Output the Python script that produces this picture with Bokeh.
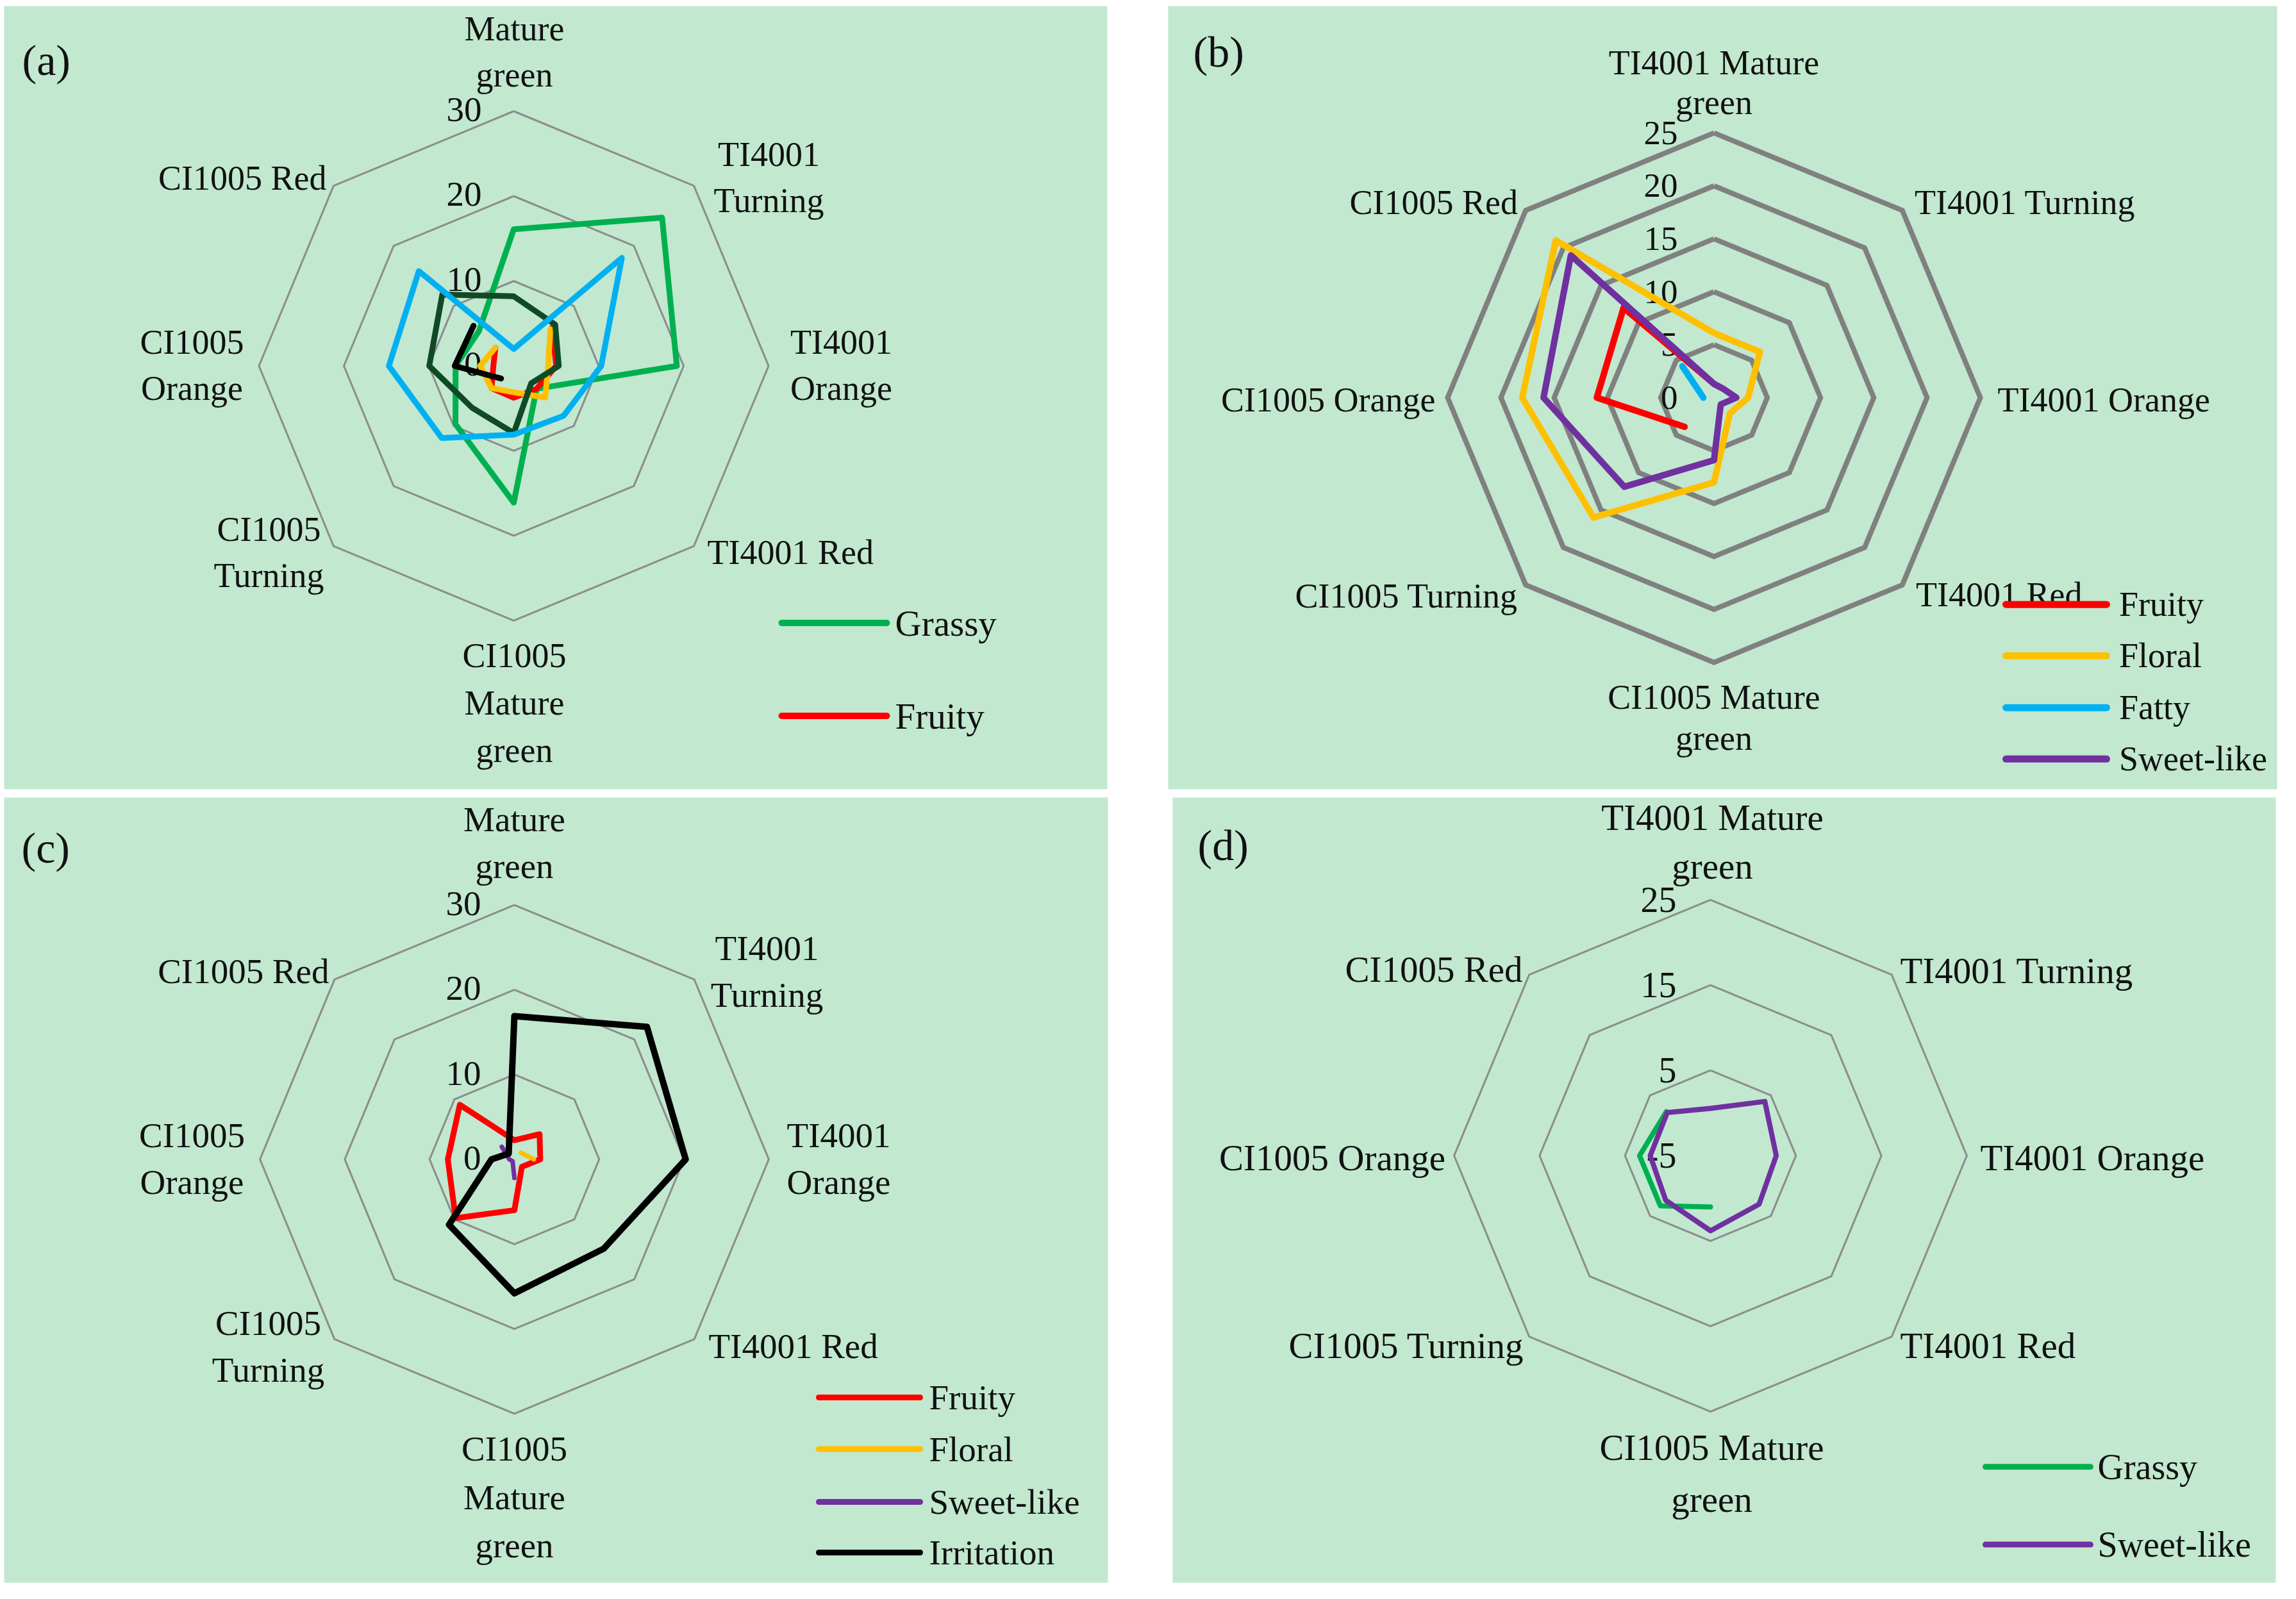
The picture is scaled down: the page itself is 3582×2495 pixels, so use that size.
import math
from bokeh.plotting import figure
from bokeh.layouts import row, column
from bokeh.models import Range1d
from bokeh.embed import file_html
from bokeh.resources import INLINE
from bokeh.core.properties import value

NAN = float("nan")

# ---------------- data ----------------
cats_ac = ["Mature\ngreen", "TI4001\nTurning", "TI4001\nOrange", "TI4001 Red",
           "CI1005\nMature\ngreen", "CI1005\nTurning", "CI1005\nOrange", "CI1005 Red"]
cats_bd = ["TI4001 Mature\ngreen", "TI4001 Turning", "TI4001 Orange", "TI4001 Red",
           "CI1005 Mature\ngreen", "CI1005 Turning", "CI1005 Orange", "CI1005 Red"]

ticks_a = [0, 10, 20, 30]
ticks_b = [0, 5, 10, 15, 20, 25]
ticks_c = [0, 10, 20, 30]
ticks_d = [-5, 5, 15, 25]

# panel (a)
a_grassy = [16.1, 24.7, 19.2, 3.8, 16.1, 9.7, 6.85, 5.8]
a_fruity = [NAN, 6.4, 5.0, 3.8, 3.75, 3.7, 2.4, 3.05]
a_floral = [NAN, 6.1, 4.05, 5.25, 3.1, 3.7, 3.95, 3.05]
a_fatty = [2.0, 18.0, 10.3, 8.3, 8.1, 12.0, 14.7, 15.8]
a_other = [8.2, 6.9, 5.3, 2.9, 7.9, 6.95, 9.95, 11.9]
a_irritation = [NAN, NAN, NAN, NAN, NAN, 2.1, 6.95, 6.7]

# panel (b)
b_fruity = [1.3, NAN, NAN, NAN, NAN, 3.9, 11.0, 12.0]
b_floral = [6.1, 6.1, 3.2, 2.1, 8.0, 16.0, 18.0, 21.0]
b_fatty = [NAN, NAN, NAN, NAN, NAN, NAN, 1.0, 4.2]
b_sweet = [1.3, 1.2, 2.1, 0.9, 5.9, 11.9, 16.0, 19.0]

# panel (c)
c_fruity = [2.25, 4.2, 3.05, 1.25, 6.0, 9.8, 7.85, 9.1]
c_floral = [NAN, 1.1, 2.3, NAN, NAN, NAN, NAN, NAN]
c_sweet = [NAN, NAN, NAN, NAN, 2.2, 0.3, 0.6, 2.1]
c_irritation = [16.9, 22.1, 20.2, 14.9, 15.8, 10.9, 2.7, 0.95]

# panel (d)
d_grassy = [NAN, NAN, NAN, NAN, 1.0, 3.3, 3.3, 2.3]
d_sweet = [0.55, 4.0, 2.7, 3.05, 3.8, 2.4, 2.05, 2.15]

# ---------------- styles ----------------
GREEN = "#00B050"
RED = "#FF0000"
GOLD = "#FFC000"
BLUE = "#00B0F0"
PURPLE = "#7030A0"
BLACK = "#000000"
DKGREEN = "#0F4A25"
BG = "#C2E8D0"
FONT = "Liberation Serif"


def make_panel(spec):
    CX, CY, k = spec["center"][0], spec["center"][1], spec["k"]
    fx0, fy0, fw, fh = spec["frame"]
    bl, br, bt, bb = spec["borders"]
    p = figure(width=fw + bl + br, height=fh + bt + bb,
               x_range=Range1d((fx0 - CX) / k, (fx0 + fw - CX) / k),
               y_range=Range1d((CY - (fy0 + fh)) / k, (CY - fy0) / k),
               x_axis_type=None, y_axis_type=None, toolbar_location=None,
               output_backend="svg",
               min_border_left=bl, min_border_right=br,
               min_border_top=bt, min_border_bottom=bb)
    p.background_fill_color = BG
    p.border_fill_color = "white"
    p.outline_line_color = None
    p.grid.visible = False

    def to_data(X, Y):
        return (X - CX) / k, (CY - Y) / k

    rmin = spec["ticks"][0]
    n = 8
    ang = [2 * math.pi * i / n for i in range(n + 1)]

    # rings
    for t in spec["ticks"][1:]:
        r = t - rmin
        p.line([r * math.sin(a) for a in ang], [r * math.cos(a) for a in ang],
               line_color=spec["ring_color"], line_width=spec["ring_width"],
               line_join="miter")

    # tick labels
    for t in spec["ticks"]:
        r = t - rmin
        p.text(x=[(spec["tick_right"] - CX) / k], y=[r + spec["tick_dy"] / k], text=[str(t)],
               text_font=value(FONT), text_font_size=spec["tick_size"],
               text_align="right", text_baseline="middle", text_color="#111111")

    # series
    for vals, color, lw in spec["series"]:
        vv = list(vals) + [vals[0]]
        xs, ys = [], []
        for i, v in enumerate(vv):
            if v != v:
                xs.append(NAN)
                ys.append(NAN)
            else:
                r = v - rmin
                xs.append(r * math.sin(ang[i]))
                ys.append(r * math.cos(ang[i]))
        p.line(xs, ys, line_color=color, line_width=lw,
               line_join="round", line_cap="round")

    # category labels
    for cat, (X, Y, align, dy) in zip(spec["cats"], spec["cat_pos"]):
        for j, line in enumerate(cat.split("\n")):
            x, y = to_data(X, Y + j * dy)
            p.text(x=[x], y=[y], text=[line], text_font=value(FONT),
                   text_font_size=spec["cat_size"], text_align=align,
                   text_baseline="middle", text_color="#111111")

    # panel letter
    x, y = to_data(*spec["letter_pos"])
    p.text(x=[x], y=[y], text=[spec["letter"]], text_font=value(FONT),
           text_font_size="68px", text_align="left",
           text_baseline="middle", text_color="#111111")

    # legend
    lx0, lx1, tx = spec["legend_x"]
    for (name, color), Y in zip(spec["legend"], spec["legend_y"]):
        x0, y0 = to_data(lx0, Y)
        x1, _ = to_data(lx1, Y)
        p.line([x0, x1], [y0, y0], line_color=color, line_width=spec["legend_lw"],
               line_cap="round")
        xt, _ = to_data(tx, Y)
        p.text(x=[xt], y=[y0], text=[name], text_font=value(FONT),
               text_font_size=spec["legend_size"], text_align="left",
               text_baseline="middle", text_color="#111111")
    return p


spec_a = dict(
    center=(809, 578.5), k=13.25, frame=(14, 17, 1721, 1222), borders=(6, 48, 9, 7),
    ticks=ticks_a, ring_color="#8C8C8C", ring_width=3,
    tick_right=759, tick_dy=3, tick_size="55px",
    series=[(a_grassy, GREEN, 9), (a_fruity, RED, 9), (a_floral, GOLD, 9),
            (a_other, DKGREEN, 9), (a_fatty, BLUE, 9), (a_irritation, BLACK, 9)],
    cats=cats_ac,
    cat_pos=[(810, 52.5, "center", 72.4), (1207, 248.5, "center", 72.4),
             (1320, 541, "center", 72.4), (1111, 869, "left", 72.4),
             (810, 1030, "center", 74.4), (427, 833.5, "center", 72.4),
             (307, 541, "center", 72.4), (517, 285, "right", 72.4)],
    cat_size="54px", letter="(a)", letter_pos=(42, 101),
    legend=[("Grassy", GREEN), ("Fruity", RED)], legend_y=[979.5, 1124.5],
    legend_x=(1227, 1391, 1404), legend_lw=10, legend_size="57px",
)

spec_b = dict(
    center=(2681.5, 627.5), k=16.62, frame=(1830, 13, 1730, 1229), borders=(47, 12, 5, 4),
    ticks=ticks_b, ring_color="#808080", ring_width=8,
    tick_right=2625, tick_dy=0, tick_size="53px",
    series=[(b_fruity, RED, 10), (b_floral, GOLD, 10), (b_fatty, BLUE, 10),
            (b_sweet, PURPLE, 10)],
    cats=cats_bd,
    cat_pos=[(2681.5, 102.5, "center", 62.3), (2994.5, 321.5, "left", 62.3),
             (3124, 631, "left", 62.3), (2996.5, 937, "left", 62.3),
             (2681.5, 1098, "center", 64.3), (2375.5, 939, "right", 62.3),
             (2247, 631, "right", 62.3), (2375.5, 321.5, "right", 62.3)],
    cat_size="54px", letter="(b)", letter_pos=(1869, 85),
    legend=[("Fruity", RED), ("Floral", GOLD), ("Fatty", BLUE), ("Sweet-like", PURPLE)],
    legend_y=[952, 1032.5, 1114, 1194.5],
    legend_x=(3137, 3294, 3313.5), legend_lw=11, legend_size="54px",
)

spec_c = dict(
    center=(810, 1816.5), k=13.23, frame=(14, 1252, 1722, 1225), borders=(6, 47, 6, 9),
    ticks=ticks_c, ring_color="#8C8C8C", ring_width=3,
    tick_right=758, tick_dy=2, tick_size="55px",
    series=[(c_fruity, RED, 9), (c_floral, GOLD, 7), (c_sweet, PURPLE, 7),
            (c_irritation, BLACK, 10)],
    cats=cats_ac,
    cat_pos=[(810, 1286, "center", 72.5), (1204, 1487, "center", 72.5),
             (1316, 1779, "center", 72.5), (1113, 2108, "left", 72.5),
             (810, 2268, "center", 75.5), (426, 2072, "center", 72.5),
             (307, 1779, "center", 72.5), (521, 1522.5, "right", 72.5)],
    cat_size="55px", letter="(c)", letter_pos=(41, 1330),
    legend=[("Fruity", RED), ("Floral", GOLD), ("Sweet-like", PURPLE), ("Irritation", BLACK)],
    legend_y=[2188, 2268.5, 2351, 2430],
    legend_x=(1285, 1443, 1457), legend_lw=9, legend_size="55px",
)

spec_d = dict(
    center=(2676, 1810.7), k=13.33, frame=(1837, 1251, 1721, 1227), borders=(54, 14, 5, 8),
    ticks=ticks_d, ring_color="#8C8C8C", ring_width=3,
    tick_right=2623, tick_dy=0, tick_size="56px",
    series=[(d_grassy, GREEN, 8), (d_sweet, PURPLE, 8)],
    cats=cats_bd,
    cat_pos=[(2679, 1282, "center", 76.4), (2972, 1521.5, "left", 76.4),
             (3097, 1814, "left", 76.4), (2972, 2107, "left", 76.4),
             (2678, 2267, "center", 80.4), (2385, 2107, "right", 76.4),
             (2262.5, 1814, "right", 76.4), (2383, 1519.5, "right", 76.4)],
    cat_size="57px", letter="(d)", letter_pos=(1876, 1326),
    legend=[("Grassy", GREEN), ("Sweet-like", PURPLE)], legend_y=[2297, 2418.5],
    legend_x=(3105, 3269, 3280), legend_lw=9, legend_size="56px",
)

pa = make_panel(spec_a)
pb = make_panel(spec_b)
pc = make_panel(spec_c)
pd_ = make_panel(spec_d)

layout = column(row(pa, pb), row(pc, pd_))
open("out.html", "w").write(file_html(layout, INLINE))
